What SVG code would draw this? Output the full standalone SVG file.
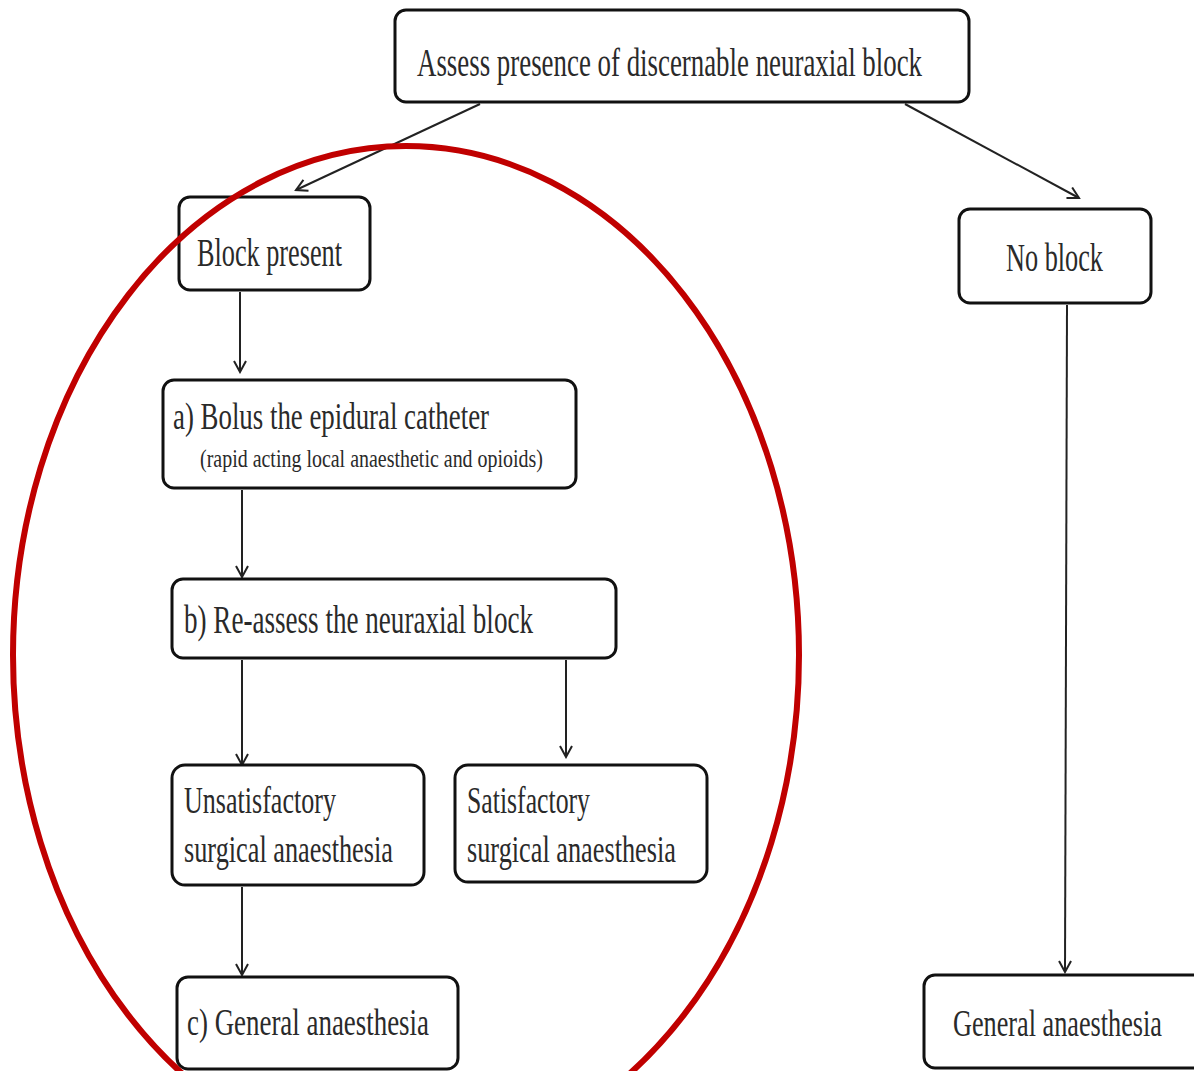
<svg xmlns="http://www.w3.org/2000/svg" width="1194" height="1071" viewBox="0 0 1194 1071">
<defs>
<style>
.box{fill:#fff;stroke:#111;stroke-width:3}
.t{font-family:"Liberation Serif","Times New Roman",serif;fill:#2a2a2a}
.c{fill:none;stroke:#222;stroke-width:2}
</style>
<marker id="ar" viewBox="0 0 14 14" refX="12" refY="7" markerWidth="14" markerHeight="14" markerUnits="userSpaceOnUse" orient="auto">
<path d="M1,1 L12,7 L1,13" fill="none" stroke="#222" stroke-width="2"/>
</marker>
</defs>
<rect width="1194" height="1071" fill="#fff"/>
<g id="connectors">
<line class="c" x1="480" y1="104" x2="296" y2="190" marker-end="url(#ar)"/>
<line class="c" x1="905" y1="104" x2="1079" y2="198" marker-end="url(#ar)"/>
<line class="c" x1="240" y1="292" x2="240" y2="372" marker-end="url(#ar)"/>
<line class="c" x1="242" y1="490" x2="242" y2="577" marker-end="url(#ar)"/>
<line class="c" x1="242" y1="660" x2="242" y2="765" marker-end="url(#ar)"/>
<line class="c" x1="566" y1="660" x2="566" y2="757" marker-end="url(#ar)"/>
<line class="c" x1="242" y1="887" x2="242" y2="975" marker-end="url(#ar)"/>
<line class="c" x1="1067" y1="305" x2="1065" y2="972" marker-end="url(#ar)"/>
</g>
<g id="n-top"><rect class="box" x="395" y="10" width="574" height="92" rx="11"/>
<text class="t" x="417" y="76" font-size="41" textLength="505" lengthAdjust="spacingAndGlyphs">Assess presence  of discernable  neuraxial  block</text></g>
<g id="n-present"><rect class="box" x="179" y="197" width="191" height="93" rx="11"/>
<text class="t" x="197" y="266" font-size="40" textLength="145" lengthAdjust="spacingAndGlyphs">Block present</text></g>
<g id="n-noblock"><rect class="box" x="959" y="209" width="192" height="94" rx="11"/>
<text class="t" x="1006" y="271" font-size="39" textLength="97" lengthAdjust="spacingAndGlyphs">No block</text></g>
<g id="n-a"><rect class="box" x="163" y="380" width="413" height="108" rx="11"/>
<text class="t" x="173" y="429" font-size="38" textLength="316" lengthAdjust="spacingAndGlyphs">a) Bolus the epidural  catheter</text>
<text class="t" x="200" y="467" font-size="25" textLength="343" lengthAdjust="spacingAndGlyphs">(rapid acting  local  anaesthetic  and  opioids)</text></g>
<g id="n-b"><rect class="box" x="172" y="579" width="444" height="79" rx="11"/>
<text class="t" x="184" y="633" font-size="39" textLength="349" lengthAdjust="spacingAndGlyphs">b) Re-assess  the  neuraxial  block</text></g>
<g id="n-unsat"><rect class="box" x="172" y="765" width="252" height="120" rx="13"/>
<text class="t" x="184" y="813" font-size="37" textLength="152" lengthAdjust="spacingAndGlyphs">Unsatisfactory</text>
<text class="t" x="184" y="862" font-size="37" textLength="209" lengthAdjust="spacingAndGlyphs">surgical  anaesthesia</text></g>
<g id="n-sat"><rect class="box" x="455" y="765" width="252" height="117" rx="13"/>
<text class="t" x="467" y="813" font-size="37" textLength="123" lengthAdjust="spacingAndGlyphs">Satisfactory</text>
<text class="t" x="467" y="862" font-size="37" textLength="209" lengthAdjust="spacingAndGlyphs">surgical  anaesthesia</text></g>
<g id="n-c"><rect class="box" x="177" y="977" width="281" height="92" rx="11"/>
<text class="t" x="187" y="1035" font-size="38" textLength="242" lengthAdjust="spacingAndGlyphs">c) General  anaesthesia</text></g>
<g id="n-ga"><rect class="box" x="924" y="975" width="285" height="93" rx="11"/>
<text class="t" x="953" y="1036" font-size="38" textLength="209" lengthAdjust="spacingAndGlyphs">General  anaesthesia</text></g>
<ellipse cx="406" cy="655" rx="393" ry="509" fill="none" stroke="#c00000" stroke-width="6"/>
</svg>
